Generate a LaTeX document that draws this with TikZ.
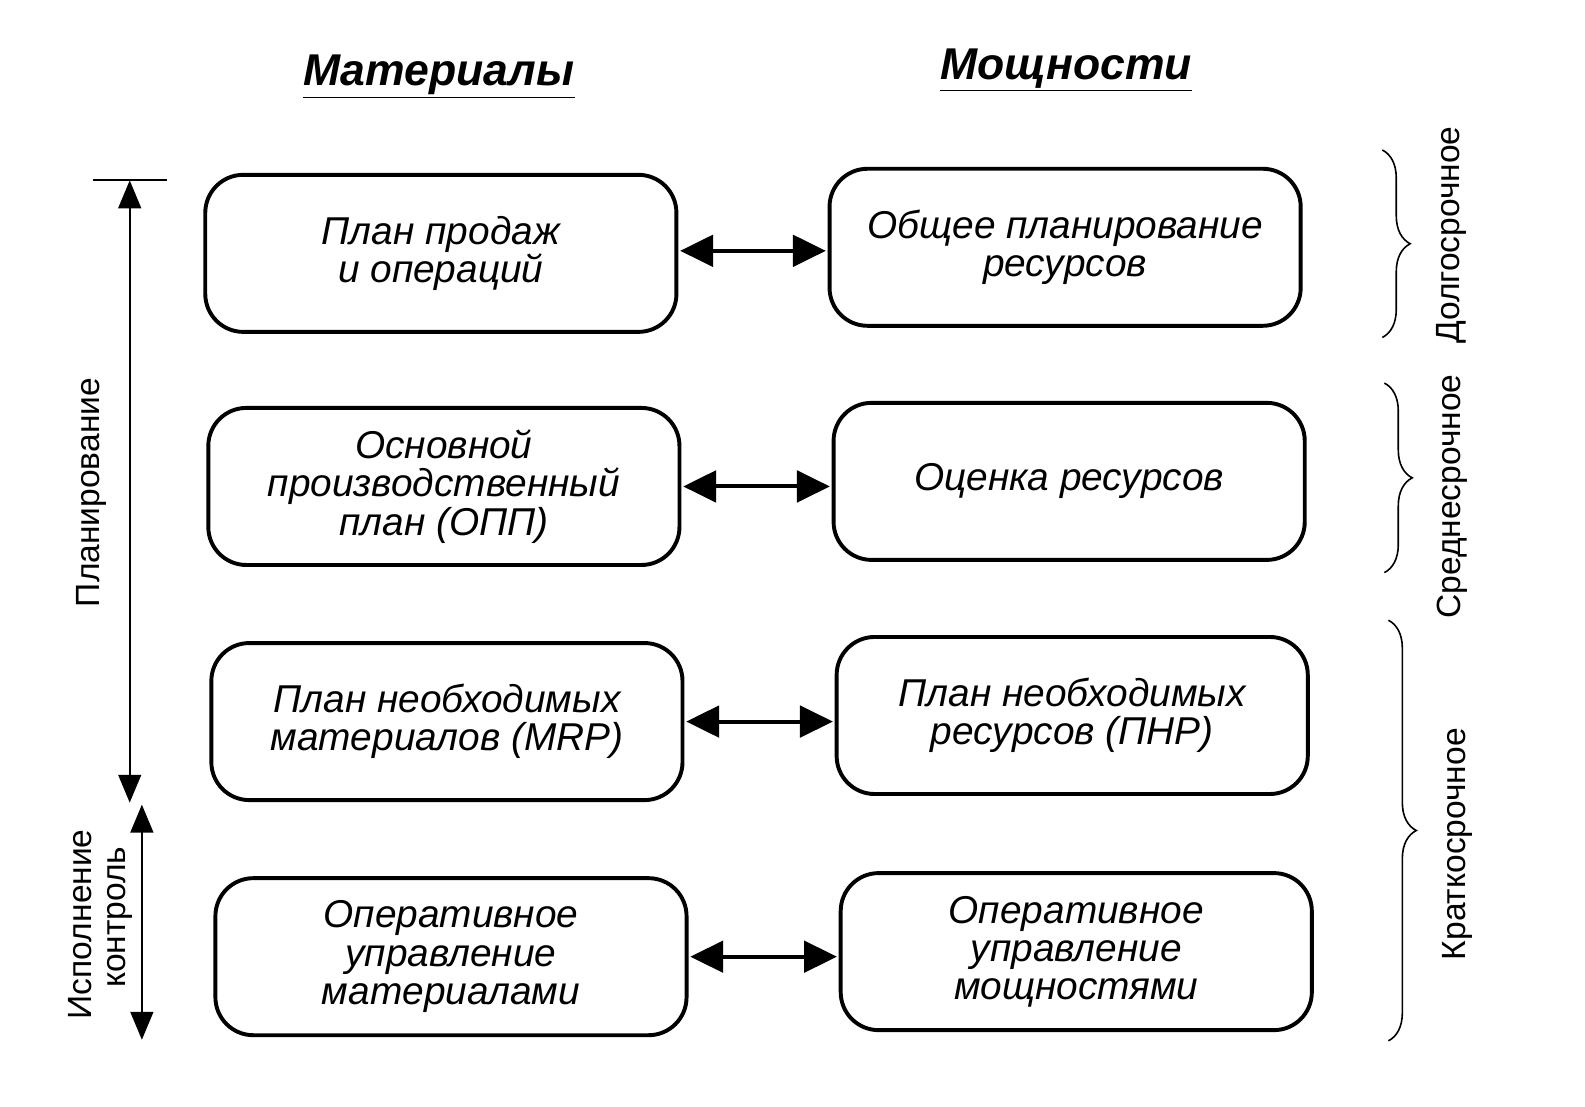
\documentclass[tikz,border=0pt]{standalone}
\usepackage{fontspec}
\setmainfont{Liberation Sans}
\usetikzlibrary{arrows.meta,decorations.pathreplacing}
\begin{document}
\begin{tikzpicture}[x=0.02cm,y=-0.02cm,
  blk/.style={draw,line width=2.2pt,rounded corners=0.75cm,minimum width=9.3cm,minimum height=3.1cm,align=center,font=\fontsize{21.8}{21.5}\selectfont\itshape,inner sep=0pt},
  dbl/.style={line width=2.2pt,{Triangle[length=0.65cm,width=0.62cm]}-{Triangle[length=0.65cm,width=0.62cm]},shorten <=1pt,shorten >=1pt},
  hdr/.style={font=\fontsize{25}{28}\selectfont\bfseries\itshape},
  side/.style={rotate=90,font=\fontsize{18.85}{21}\selectfont},
  vline/.style={line width=1.1pt,{Triangle[length=0.55cm,width=0.45cm]}-{Triangle[length=0.55cm,width=0.45cm]}},
  br/.style={decorate,decoration={brace,amplitude=0.55cm},line width=0.9pt}]
\fill[white] (0,0) rectangle (1564,1091.4);
% headers
\node[hdr] (hm) at (433,76) {\underline{Материалы}};
\node[hdr] (hp) at (1052,69) {\underline{Мощности}};
% boxes
\node[blk] (L1) at (435,250) {План продаж\\и операций};
\node[blk] (L2) at (438,480) {Основной\\производственный\\план (ОПП)};
\node[blk] (L3) at (441,712) {План необходимых\\материалов (MRP)};
\node[blk] (L4) at (445,944) {Оперативное\\управление\\материалами};
\node[blk] (R1) at (1051,244) {Общее планирование\\ресурсов};
\node[blk] (R2) at (1055,475) {Оценка ресурсов};
\node[blk] (R3) at (1058,706) {План необходимых\\ресурсов (ПНР)};
\node[blk] (R4) at (1062,939) {Оперативное\\управление\\мощностями};
% arrows
\draw[dbl] ([yshift=0.05cm]L1.east) -- ([yshift=0.05cm]L1.east -| R1.west);
\draw[dbl] (L2.east) -- (L2.east -| R2.west);
\draw[dbl] (L3.east) -- (L3.east -| R3.west);
\draw[dbl] (L4.east) -- (L4.east -| R4.west);
% left scale
\coordinate (t1) at (128,178);
\coordinate (b1) at (128,792);
\coordinate (t2) at (140,794);
\coordinate (b2) at (140,1026);
\coordinate (k1) at (92,178);
\coordinate (k2) at (165,178);
\draw[line width=1.1pt] (k1) -- (k2);
\draw[vline] (t1) -- (b1);
\draw[vline] (t2) -- (b2);
\node[side] (plan) at (90,486) {Планирование};
\node[side] (isp) at (79,912) {Исполнение};
\node[side] (kon) at (118,905) {контроль};
% braces
\coordinate (a1) at (1364,148);
\coordinate (a2) at (1364,333);
\coordinate (a3) at (1366,378);
\coordinate (a4) at (1366,565);
\coordinate (a5) at (1370,612);
\coordinate (a6) at (1370,1027);
\draw[br] (a1) -- (a2);
\draw[br] (a3) -- (a4);
\draw[br] (a5) -- (a6);
\node[side] (d1) at (1432,232) {Долгосрочное};
\node[side] (d2) at (1433,490) {Среднесрочное};
\node[side] (d3) at (1438,833) {Краткосрочное};
\pgfresetboundingbox
\useasboundingbox (0,0) rectangle (1564,1091.4);
\end{tikzpicture}
\end{document}
